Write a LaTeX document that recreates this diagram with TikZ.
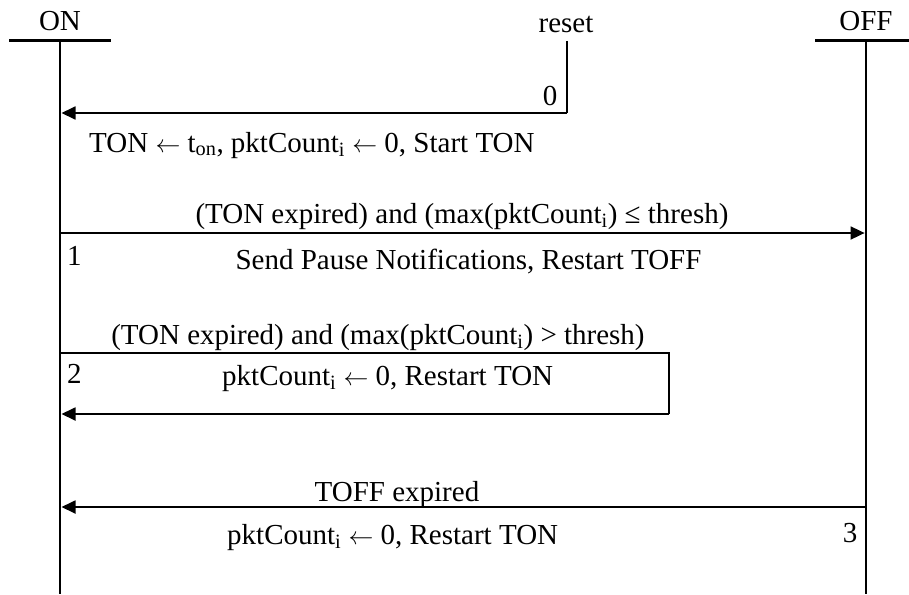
\documentclass[tikz,border=0pt]{standalone}
\usepackage{fontspec}
\setmainfont{Liberation Serif}
\usetikzlibrary{arrows.meta}
\newcommand{\larrow}{\(\leftarrow\)}
\begin{document}
\begin{tikzpicture}[x=1pt,y=-1pt,
  lbl/.style={inner sep=0pt, anchor=base, font=\fontsize{29}{34}\selectfont},
  lblw/.style={lbl, anchor=base west},
  life/.style={line width=2.8pt},
  bar/.style={line width=3pt},
  msg/.style={line width=1.8pt, -{Triangle[length=14pt,width=13pt]}},
  plainline/.style={line width=1.8pt}]
\useasboundingbox (0,0) rectangle (909,594);
% state headers
\node[lbl] (on) at (60,31) {ON};
\node[lbl] (off) at (866,31) {OFF};
\node[lbl] (reset) at (566,33) {reset};
% coordinates
\coordinate (onBarL) at (9,41);
\coordinate (onBarR) at (111,41);
\coordinate (offBarL) at (815,41);
\coordinate (offBarR) at (909,41);
\coordinate (onTop) at (60,41);
\coordinate (onBot) at (60,594);
\coordinate (offTop) at (866,41);
\coordinate (offBot) at (866,594);
\coordinate (rTop) at (567,41);
\coordinate (rCorner) at (567,113);
\coordinate (r0End) at (61.5,113);
\coordinate (a1Start) at (61,233);
\coordinate (a1End) at (864.6,233);
\coordinate (lpStart) at (61,353);
\coordinate (lpTR) at (669,353);
\coordinate (lpBR) at (669,414);
\coordinate (lpEnd) at (61.5,414);
\coordinate (a3Start) at (865,507);
\coordinate (a3End) at (61.5,507);
% bars and lifelines
\draw[bar] (onBarL) -- (onBarR);
\draw[bar] (offBarL) -- (offBarR);
\draw[life] (onTop) -- (onBot);
\draw[life] (offTop) -- (offBot);
% transition 0
\draw[plainline] (rTop) -- (rCorner);
\draw[msg] (rCorner) -- (r0End);
\node[lbl] (n0) at (550,105) {0};
\node[lblw] (t0) at (89,152) {TON \larrow{} t\textsubscript{on}, pktCount\textsubscript{i} \larrow{} 0, Start TON};
% transition 1
\draw[msg] (a1Start) -- (a1End);
\node[lbl] (c1) at (462,223) {(TON expired) and (max(pktCount\textsubscript{i}) ≤ thresh)};
\node[lblw] (n1) at (67,265) {1};
\node[lbl] (t1) at (468.5,269) {Send Pause Notifications, Restart TOFF};
% transition 2
\node[lbl] (c2) at (378,344) {(TON expired) and (max(pktCount\textsubscript{i}) > thresh)};
\draw[plainline] (lpStart) -- (lpTR) -- (lpBR);
\draw[msg] (lpBR) -- (lpEnd);
\node[lblw] (n2) at (67,383) {2};
\node[lblw] (t2) at (222,385) {pktCount\textsubscript{i} \larrow{} 0, Restart TON};
% transition 3
\draw[msg] (a3Start) -- (a3End);
\node[lbl] (c3) at (397,501) {TOFF expired};
\node[lblw] (t3) at (227,544) {pktCount\textsubscript{i} \larrow{} 0, Restart TON};
\node[lbl] (n3) at (850,542) {3};
\end{tikzpicture}
\end{document}
